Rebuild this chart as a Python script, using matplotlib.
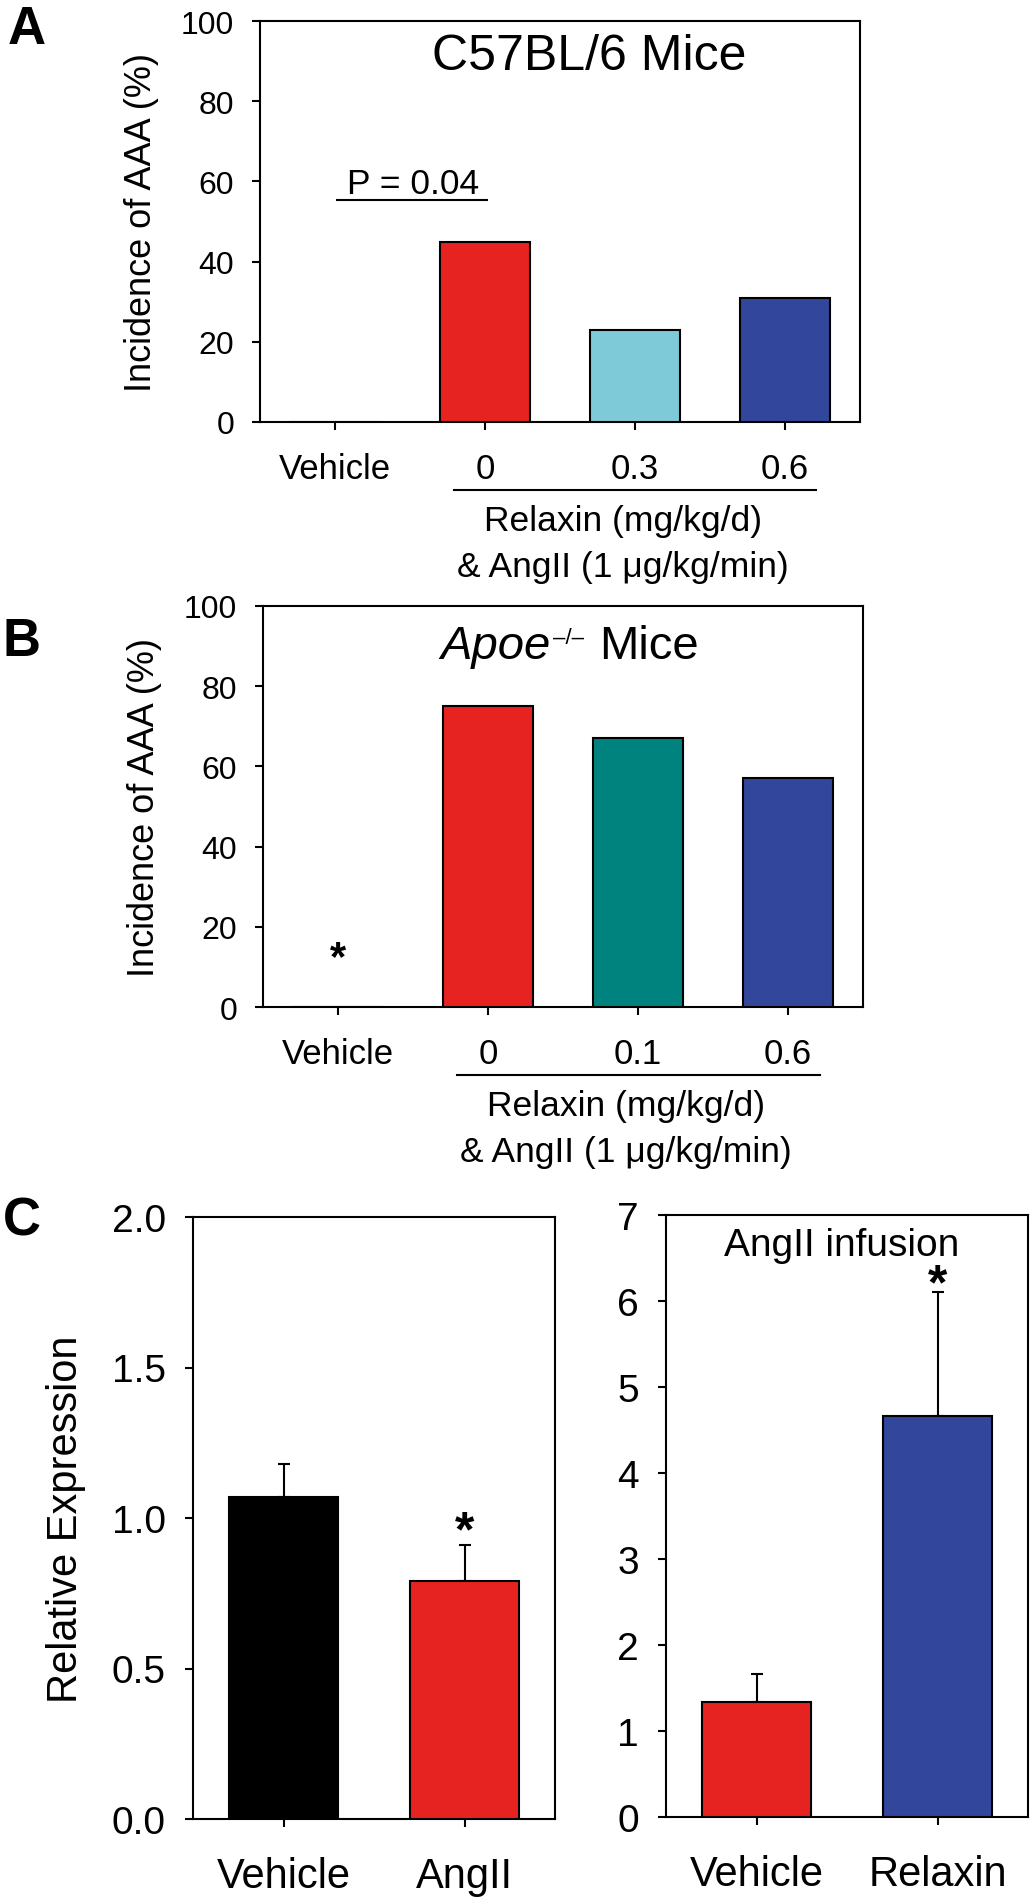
import matplotlib
matplotlib.use('Agg')
import matplotlib.pyplot as plt
from matplotlib.transforms import blended_transform_factory

plt.rcParams['font.family'] = ['Liberation Sans', 'DejaVu Sans']

# ---------------- data ----------------
a_categories = ['Vehicle', '0', '0.3', '0.6']
a_values = [0, 45, 23, 31]
a_colors = ['white', '#E62320', '#7FCAD9', '#32479B']

b_categories = ['Vehicle', '0', '0.1', '0.6']
b_values = [0, 75, 67, 57]
b_colors = ['white', '#E62320', '#00837F', '#32479B']

c1_categories = ['Vehicle', 'AngII']
c1_values = [1.07, 0.79]
c1_errors = [0.11, 0.12]
c1_colors = ['black', '#E62320']

c2_categories = ['Vehicle', 'Relaxin']
c2_values = [1.34, 4.66]
c2_errors = [0.32, 1.44]
c2_colors = ['#E62320', '#32479B']

a_yticks = [0, 20, 40, 60, 80, 100]
c1_yticks = [0.0, 0.5, 1.0, 1.5, 2.0]
c1_yticklabels = ['0.0', '0.5', '1.0', '1.5', '2.0']
c2_yticks = [0, 1, 2, 3, 4, 5, 6, 7]

# ---------------- figure ----------------
W, H = 1033, 1899
fig = plt.figure(figsize=(W / 100, H / 100), dpi=100)


def px_axes(left, top, right, bottom):
    return fig.add_axes([left / W, 1 - bottom / H, (right - left) / W, (bottom - top) / H])


def style(ax, ysize, xsize, ypad, xpad):
    for s in ax.spines.values():
        s.set_linewidth(1.5)
        s.set_color('black')
    ax.tick_params(axis='both', direction='out', length=5.5, width=1.5,
                   top=False, right=False, colors='black')
    ax.tick_params(axis='y', labelsize=ysize, pad=ypad)
    ax.tick_params(axis='x', labelsize=xsize, pad=xpad)


def incidence_panel(ax, cats, vals, cols):
    x = list(range(len(cats)))
    ax.bar(x, vals, width=0.6, color=cols, edgecolor='black', linewidth=1.5, zorder=3)
    ax.set_xlim(-0.5, len(cats) - 0.5)
    ax.set_ylim(0, 100)
    ax.set_yticks(a_yticks)
    ax.set_xticks(x)
    ax.set_xticklabels(cats)
    style(ax, 23, 25, 13, 16)
    ax.text(-0.197, 0.5, 'Incidence of AAA (%)', rotation=90, transform=ax.transAxes,
            ha='center', va='center', fontsize=26)
    tr = blended_transform_factory(ax.transData, ax.transAxes)
    ax.plot([x[1] - 0.21, x[-1] + 0.21], [-0.169, -0.169], transform=tr,
            color='black', lw=1.5, clip_on=False)
    ax.text(1.92, -0.27, 'Relaxin (mg/kg/d)', transform=tr, ha='center',
            va='baseline', fontsize=25.5)
    ax.text(1.92, -0.383, '& AngII (1 μg/kg/min)', transform=tr, ha='center',
            va='baseline', fontsize=25.5)
    return x


# Panel A
axA = px_axes(260, 22, 860, 423)
xa = incidence_panel(axA, a_categories, a_values, a_colors)
axA.text(0.548, 0.880, 'C57BL/6 Mice', transform=axA.transAxes, ha='center',
         va='baseline', fontsize=36)
axA.plot([xa[0] + 0.01, xa[1] + 0.01], [55.4, 55.4], color='black', lw=1.5)
axA.text(0.52, 57.2, 'P = 0.04', ha='center', va='baseline', fontsize=25.5)
fig.text(8 / W, 1 - 5 / H, 'A', fontsize=38, fontweight='bold', ha='left', va='top')

# Panel B
axB = px_axes(263, 607, 863, 1008)
xb = incidence_panel(axB, b_categories, b_values, b_colors)
t1 = axB.text(0.295, 0.870, 'Apoe', transform=axB.transAxes, ha='left',
              va='baseline', fontsize=34, style='italic')
t2 = axB.annotate('–/–', xy=(1.0, 0.908), xycoords=(t1, 'axes fraction'),
                  xytext=(2, 0), textcoords='offset points', ha='left',
                  va='baseline', fontsize=16)
axB.annotate('Mice', xy=(1.0, 0.870), xycoords=(t2, 'axes fraction'),
             xytext=(11, 0), textcoords='offset points', ha='left',
             va='baseline', fontsize=34)
axB.text(xb[0], 9.5, '*', ha='center', va='baseline', fontsize=30, fontweight='bold')
fig.text(3 / W, 1 - 617 / H, 'B', fontsize=38, fontweight='bold', ha='left', va='top')

# Panel C left
axC1 = px_axes(193, 1218, 555, 1820)
xc1 = list(range(len(c1_categories)))
axC1.bar(xc1, c1_values, width=0.6, color=c1_colors, edgecolor='black', linewidth=1.5, zorder=3)
axC1.errorbar(xc1, c1_values, yerr=[[0] * len(c1_values), c1_errors], fmt='none',
              ecolor='black', elinewidth=1.5, capsize=4, capthick=1.5, zorder=2)
axC1.set_xlim(-0.5, 1.5)
axC1.set_ylim(0, 2.0)
axC1.set_yticks(c1_yticks)
axC1.set_yticklabels(c1_yticklabels)
axC1.set_xticks(xc1)
axC1.set_xticklabels(c1_categories)
style(axC1, 28, 30, 14, 21)
axC1.text(-0.351, 0.5, 'Relative Expression', rotation=90, transform=axC1.transAxes,
          ha='center', va='center', fontsize=30)
axC1.text(xc1[1], c1_values[1] + c1_errors[1], '*', ha='center', va='baseline',
          fontsize=36, fontweight='bold')
fig.text(3 / W, 1 - 1197 / H, 'C', fontsize=38, fontweight='bold', ha='left', va='top')

# Panel C right
axC2 = px_axes(666, 1216, 1028, 1818)
xc2 = list(range(len(c2_categories)))
axC2.bar(xc2, c2_values, width=0.6, color=c2_colors, edgecolor='black', linewidth=1.5, zorder=3)
axC2.errorbar(xc2, c2_values, yerr=[[0] * len(c2_values), c2_errors], fmt='none',
              ecolor='black', elinewidth=1.5, capsize=4, capthick=1.5, zorder=2)
axC2.set_xlim(-0.5, 1.5)
axC2.set_ylim(0, 7)
axC2.set_yticks(c2_yticks)
axC2.set_xticks(xc2)
axC2.set_xticklabels(c2_categories)
style(axC2, 28, 30, 14, 21)
axC2.text(0.486, 0.934, 'AngII infusion', transform=axC2.transAxes, ha='center',
          va='baseline', fontsize=28)
axC2.text(xc2[1], c2_values[1] + c2_errors[1] - 0.07, '*', ha='center', va='baseline',
          fontsize=36, fontweight='bold')

fig.savefig('out.png', dpi=100)
